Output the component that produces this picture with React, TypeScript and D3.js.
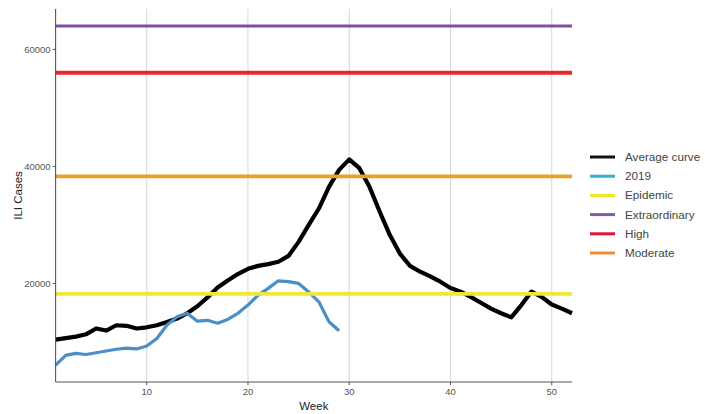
import React from "react";
import * as d3 from "d3";

const weeks = d3.range(1, 53);
const averageCurve = [
  10400, 10650, 10900, 11300, 12300, 11950, 12850, 12750, 12300, 12500,
  12850, 13400, 14000, 14900, 16100, 17600, 19300, 20500, 21600, 22500,
  23000, 23300, 23700, 24700, 27100, 30000, 32800, 36500, 39400, 41200,
  39700, 36500, 32300, 28300, 25100, 23000, 22000, 21200, 20300, 19200,
  18600, 17700, 16700, 15700, 14900, 14200, 16300, 18600, 17700, 16400,
  15700, 14900,
];
const cases2019 = [
  6050, 7700, 8050, 7850, 8150, 8450, 8750, 8950, 8800, 9300,
  10600, 12900, 14300, 14900, 13550, 13700, 13200, 13850, 14900, 16300,
  18000, 19150, 20450, 20300, 20000, 18550, 16850, 13450, 11900,
];
const thresholdNames = ["Epidemic", "Extraordinary", "High", "Moderate"];
const thresholdValues = [18200, 64000, 56000, 38300];
const thresholdColors = ["#EEE83A", "#7E50A2", "#E8282B", "#E9A12B"];
const legendLabels = ["Average curve", "2019", "Epidemic", "Extraordinary", "High", "Moderate"];
const legendColors = ["#111111", "#35AFCB", "#F5E51E", "#7D5FA6", "#DC143C", "#EE8C3E"];
const xTicks = [10, 20, 30, 40, 50];
const yTicks = [20000, 40000, 60000];

export default function App() {
  const W = 705, H = 414;
  const left = 55.6, right = 572, top = 9, bottom = 382;
  const x = d3.scaleLinear().domain([1, 52]).range([left, right]);
  const all = [...averageCurve, ...cases2019, ...thresholdValues];
  const [mn, mx] = d3.extent(all) as [number, number];
  const pad = (mx - mn) * 0.05;
  const y = d3.scaleLinear().domain([mn - pad, mx + pad]).range([bottom, top]);
  const line = d3.line<number>().x((_, i) => x(weeks[i])).y((d) => y(d));
  const font = "'Liberation Sans', Arial, sans-serif";

  return (
    <svg width={W} height={H} style={{ position: "absolute", left: 0, top: 0, background: "#fff" }}>
      {xTicks.map((t) => (
        <line key={"g" + t} x1={x(t)} x2={x(t)} y1={top} y2={bottom} stroke="#D6D6D6" strokeWidth={1} />
      ))}
      <path d={line(averageCurve) || ""} fill="none" stroke="#000" strokeWidth={4.2} strokeLinejoin="round" />
      <path d={line(cases2019) || ""} fill="none" stroke="#4A8FC9" strokeWidth={3.2} strokeLinejoin="round" />
      {thresholdValues.map((v, i) => (
        <line key={"t" + i} x1={left} x2={right} y1={y(v)} y2={y(v)} stroke={thresholdColors[i]} strokeWidth={i === 1 ? 3 : 3.8} />
      ))}
      <line x1={left} x2={left} y1={top} y2={bottom} stroke="#555" strokeWidth={1.1} />
      <line x1={left} x2={right} y1={bottom} y2={bottom} stroke="#555" strokeWidth={1.1} />
      {yTicks.map((t) => (
        <g key={"y" + t}>
          <line x1={left - 3} x2={left} y1={y(t)} y2={y(t)} stroke="#555" strokeWidth={1} />
          <text x={left - 5} y={y(t)} dy="0.35em" textAnchor="end" fontFamily={font} fontSize={9.5} fill="#555">
            {t}
          </text>
        </g>
      ))}
      {xTicks.map((t) => (
        <g key={"x" + t}>
          <line x1={x(t)} x2={x(t)} y1={bottom} y2={bottom + 3} stroke="#555" strokeWidth={1} />
          <text x={x(t)} y={bottom + 13} textAnchor="middle" fontFamily={font} fontSize={9.5} fill="#555">
            {t}
          </text>
        </g>
      ))}
      <text x={(left + right) / 2} y={410} textAnchor="middle" fontFamily={font} fontSize={11.5} fill="#222">
        Week
      </text>
      <text transform={`translate(22,${(top + bottom) / 2}) rotate(-90)`} textAnchor="middle" fontFamily={font} fontSize={11.5} fill="#222">
        ILI Cases
      </text>
      {legendLabels.map((lab, i) => {
        const ly = 157 + i * 19.2;
        return (
          <g key={"l" + i}>
            <line x1={590} x2={615} y1={ly} y2={ly} stroke={legendColors[i]} strokeWidth={3} />
            <text x={625} y={ly} dy="0.35em" fontFamily={font} fontSize={11.7} fill="#444">
              {lab}
            </text>
          </g>
        );
      })}
    </svg>
  );
}
